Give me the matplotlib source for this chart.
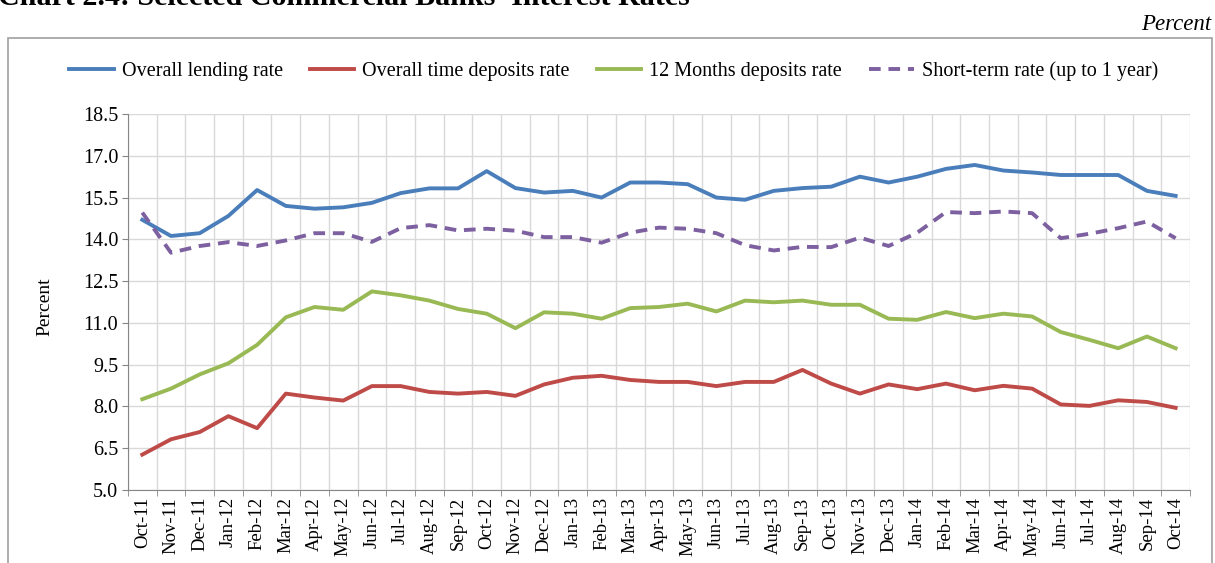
import matplotlib.pyplot as plt
from matplotlib.patches import Rectangle
import numpy as np

plt.rcParams['font.family'] = ['Liberation Serif', 'DejaVu Serif']

months = ['Oct-11', 'Nov-11', 'Dec-11', 'Jan-12', 'Feb-12', 'Mar-12', 'Apr-12', 'May-12',
          'Jun-12', 'Jul-12', 'Aug-12', 'Sep-12', 'Oct-12', 'Nov-12', 'Dec-12', 'Jan-13',
          'Feb-13', 'Mar-13', 'Apr-13', 'May-13', 'Jun-13', 'Jul-13', 'Aug-13', 'Sep-13',
          'Oct-13', 'Nov-13', 'Dec-13', 'Jan-14', 'Feb-14', 'Mar-14', 'Apr-14', 'May-14',
          'Jun-14', 'Jul-14', 'Aug-14', 'Sep-14', 'Oct-14']

lending = [14.7, 14.12, 14.22, 14.84, 15.77, 15.2, 15.1, 15.15, 15.31, 15.66, 15.83, 15.83,
           16.45, 15.84, 15.68, 15.74, 15.5, 16.04, 16.04, 15.98, 15.5, 15.42, 15.74, 15.84,
           15.89, 16.25, 16.04, 16.25, 16.53, 16.67, 16.47, 16.4, 16.31, 16.31, 16.31, 15.74,
           15.56]
time_dep = [6.27, 6.82, 7.08, 7.65, 7.22, 8.46, 8.32, 8.21, 8.73, 8.73, 8.52, 8.46,
            8.52, 8.38, 8.79, 9.03, 9.1, 8.95, 8.88, 8.88, 8.73, 8.88, 8.88, 9.31,
            8.82, 8.46, 8.79, 8.62, 8.82, 8.58, 8.74, 8.64, 8.07, 8.02, 8.22, 8.16,
            7.95]
dep_12m = [8.26, 8.64, 9.15, 9.55, 10.21, 11.2, 11.57, 11.47, 12.13, 11.99, 11.8, 11.5,
           11.33, 10.81, 11.38, 11.33, 11.15, 11.53, 11.57, 11.69, 11.41, 11.8, 11.74, 11.8,
           11.65, 11.65, 11.15, 11.11, 11.39, 11.17, 11.33, 11.23, 10.67, 10.39, 10.09, 10.51,
           10.09]
short_term = [14.96, 13.52, 13.76, 13.9, 13.76, 13.96, 14.22, 14.22, 13.91, 14.4, 14.51, 14.32,
              14.38, 14.31, 14.08, 14.08, 13.88, 14.24, 14.42, 14.38, 14.22, 13.79, 13.6, 13.73,
              13.72, 14.06, 13.76, 14.24, 14.98, 14.94, 15.0, 14.94, 14.04, 14.2, 14.4, 14.64,
              14.04]

fig = plt.figure(figsize=(12.15, 5.63), dpi=100)
ax = fig.add_axes([0.1053, 0.1297, 0.8741, 0.6678])

x = np.arange(len(months))
ax.plot(x, lending, color='#4A7EBB', lw=2.8, label='Overall lending rate')
ax.plot(x, time_dep, color='#BE4B48', lw=2.8, label='Overall time deposits rate')
ax.plot(x, dep_12m, color='#98B954', lw=2.8, label='12 Months deposits rate')
ax.plot(x, short_term, color='#7D60A0', lw=2.8, ls=(0, (3, 2)), label='Short-term rate (up to 1 year)')

ax.set_xlim(-0.5, len(months) - 0.5)
ax.set_ylim(5.0, 18.5)
ax.set_yticks(np.arange(5.0, 18.6, 1.5))
ax.set_yticklabels(['%.1f' % v for v in np.arange(5.0, 18.6, 1.5)], fontsize=14.5)
ax.set_xticks(x)
ax.set_xticklabels(months, rotation=90, fontsize=13.5)
ax.set_xticks(np.arange(-0.5, len(months), 1), minor=True)
ax.tick_params(axis='x', which='major', length=0, pad=5)
ax.tick_params(axis='x', which='minor', length=4, color='#868686')
ax.tick_params(axis='y', length=4, color='#868686', pad=3)
ax.grid(True, axis='y', color='#D9D9D9', lw=1)
ax.grid(True, axis='x', which='minor', color='#D9D9D9', lw=1)
ax.set_axisbelow(True)
for s in ['top', 'right']:
    ax.spines[s].set_visible(False)
for s in ['left', 'bottom']:
    ax.spines[s].set_color('#868686')
ax.set_ylabel('Percent', fontsize=14, va='center')
ax.yaxis.set_label_coords(-0.078, 0.487)

fig.legend(loc='center', bbox_to_anchor=(0.505, 0.874), ncol=4, frameon=False,
           fontsize=14.5, handlelength=2.2, columnspacing=1.35, handletextpad=0.4)

fig.patches.append(Rectangle((8 / 1215, -0.05), 1204 / 1215, 1.05 - 38 / 563,
                             transform=fig.transFigure, fill=False, ec='#A0A0A0', lw=1.2))

fig.text(-0.002, 1 - 5 / 563, "Chart 2.4: Selected Commercial Banks' Interest Rates",
         fontsize=21.6, fontweight='bold', va='baseline', ha='left')
fig.text(0.997, 1 - 30 / 563, 'Percent', fontsize=16.5, style='italic', ha='right', va='baseline')

fig.savefig('out.png', dpi=100)
